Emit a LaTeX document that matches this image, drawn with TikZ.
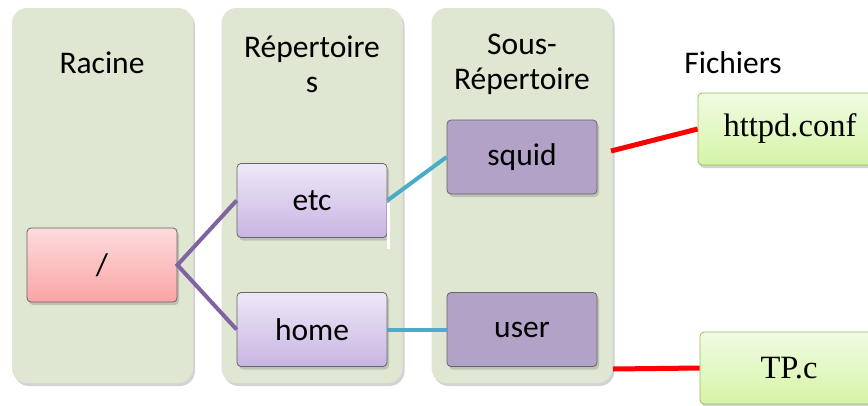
\documentclass[tikz,border=0pt]{standalone}
\usepackage{fontspec}
\setmainfont{Carlito}
\newfontfamily\timesfont{Liberation Serif}
\usetikzlibrary{shadows}
\definecolor{colfond}{HTML}{DFE6D1}
\definecolor{rosehaut}{HTML}{FDDCDE}
\definecolor{rosebas}{HTML}{FBA4A4}
\definecolor{lilashaut}{HTML}{EEE8F7}
\definecolor{lilasbas}{HTML}{C8B5E2}
\definecolor{violet}{HTML}{B3A2C7}
\definecolor{verthaut}{HTML}{F1FBE3}
\definecolor{vertbas}{HTML}{D5F4A6}
\definecolor{vertbord}{HTML}{9BBB59}
\definecolor{traitviolet}{HTML}{8064A2}
\definecolor{traitbleu}{HTML}{4BACC6}
\newcommand*{\taille}{\fontsize{31.5}{35}\selectfont}
\tikzset{
  ombre/.style={drop shadow={opacity=0.35, shadow xshift=2pt, shadow yshift=-3pt}},
  colonne/.style={fill=colfond, rounded corners=15pt, minimum width=181pt,
    minimum height=375pt, inner sep=0pt, ombre},
  entete/.style={font=\taille, align=center},
  boite/.style={draw=gray!80!black, line width=0.8pt, rounded corners=4pt,
    minimum width=150pt, minimum height=74pt, inner sep=0pt, font=\taille, ombre},
  racinebox/.style={boite, top color=rosehaut, bottom color=rosebas},
  repbox/.style={boite, top color=lilashaut, bottom color=lilasbas},
  sousbox/.style={boite, fill=violet},
  fichierbox/.style={boite, draw=vertbord, top color=verthaut, bottom color=vertbas,
    minimum height=72pt, font=\timesfont\fontsize{32.5}{35}\selectfont},
  lien/.style={line width=4pt},
}

\begin{document}
\begin{tikzpicture}[x=1pt, y=-1pt]
    \useasboundingbox (0,0) rectangle (868,405);
    \clip (0,0) rectangle (868,405);
    % colonnes
    \node [colonne] (colracine) at (102.5,195.5) {};
    \node [colonne] (colrep)    at (312,195.5)   {};
    \node [colonne] (colsous)   at (522,195.5)   {};
    % titres
    \node [entete] (tracine)   at (102,63)  {Racine};
    \node [entete] (trep)      at (312,64)  {Répertoire\\s};
    \node [entete] (tsous)     at (522,64)  {Sous-\\Répertoire};
    \node [entete] (tfichiers) at (733,63)  {Fichiers};
    % boites
    \node [racinebox] (root)  at (102,265)   {/};
    \node [repbox]    (etc)   at (312,200.5) {etc};
    \node [repbox]    (home)  at (312,329.5) {home};
    \node [sousbox]   (squid) at (522,157)   {squid};
    \node [sousbox]   (user)  at (522,329.5) {user};
    \node [fichierbox, minimum width=184pt] (httpd) at (790,129) {httpd.conf};
    \node [fichierbox, minimum width=178pt] (tpc)   at (789,368) {TP.c};
    % liens
    \draw [lien, traitviolet] (etc.west) -- (root.east) -- (home.west);
    \draw [lien, traitbleu] (etc.east) -- (squid.west);
    \draw [lien, traitbleu] (home.east) -- (user.west);
    \coordinate (squidfin) at (611,151);
    \coordinate (userfin)  at (613,369);
    \draw [lien, red, line width=5pt] (squidfin) -- (httpd.west);
    \draw [lien, red, line width=5pt] (userfin) -- (tpc.west);
    \draw [white, line width=3pt] ([xshift=1pt, yshift=-2pt]etc.east) -- ++(0,46);
\end{tikzpicture}
\end{document}
